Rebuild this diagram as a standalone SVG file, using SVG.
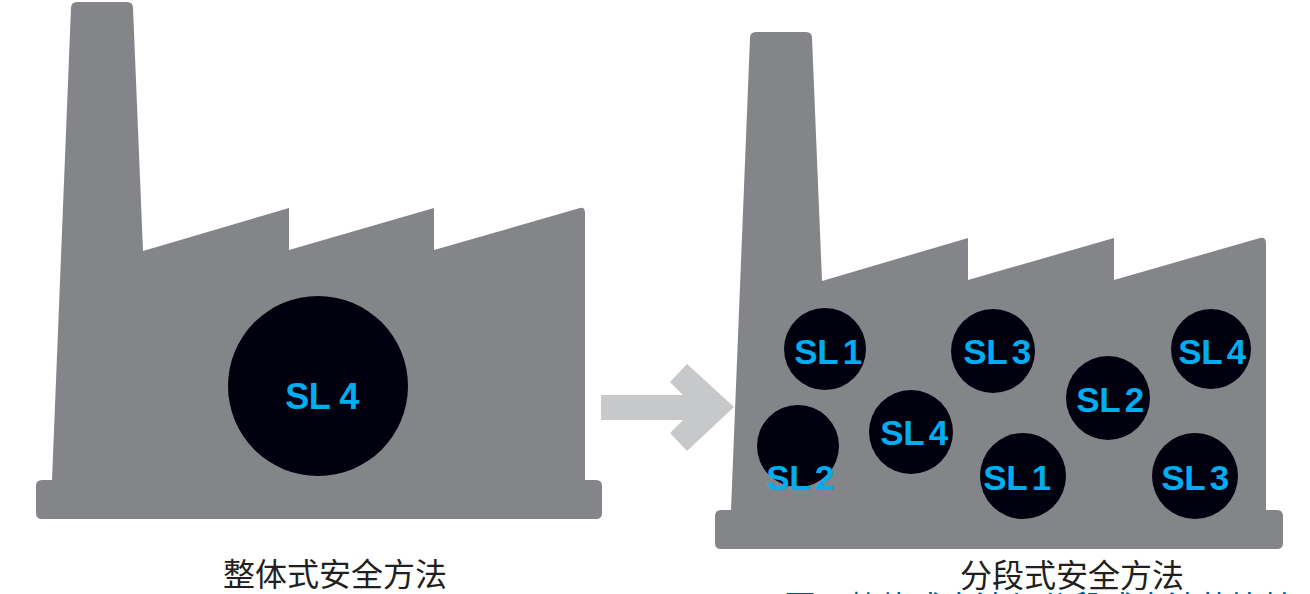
<svg xmlns="http://www.w3.org/2000/svg" width="1310" height="594" viewBox="0 0 1310 594">
<style>
.f{fill:#848589}
.c{fill:#00000f}
.s{font:700 36px "Liberation Sans",Arial,sans-serif;fill:#00aeef;text-anchor:middle;letter-spacing:-.5px}
.n{font-size:35px;word-spacing:-4px}
.l{font:32px "Noto Sans CJK SC","Liberation Sans",sans-serif;fill:#231f20;text-anchor:middle}
.b{font:32px "Noto Sans CJK SC","Liberation Sans",sans-serif;fill:#005b8c}
</style>
<g id="factory-left"><path class="f" d="M71 8Q71 2 77 2H127Q133 2 133 8L143 251L289 208V250L434 208V250L580 208Q585 207 585 213V480H596Q602 480 602 486V513Q602 519 596 519H42Q36 519 36 513V486Q36 480 42 480H52Z"/></g>
<g id="factory-right"><path class="f" d="M750 38Q750 32 756 32H806Q812 32 812 38L822 281L968 238V280L1114 238V280L1260 238Q1266 237 1266 243V510H1277Q1283 510 1283 516V543Q1283 549 1277 549H721Q715 549 715 543V516Q715 510 721 510H731Z"/></g>
<g id="sl4-large"><circle class="c" cx="318" cy="386" r="90"/><text class="s" x="322" y="409">SL 4</text></g>
<g id="r-sl1a"><circle class="c" cx="825" cy="349" r="41"/><text class="s n" x="828" y="364">SL 1</text></g>
<g id="r-sl3a"><circle class="c" cx="993" cy="351" r="42"/><text class="s n" x="997" y="364">SL 3</text></g>
<g id="r-sl4a"><circle class="c" cx="1211" cy="349" r="40"/><text class="s n" x="1212" y="364">SL 4</text></g>
<g id="r-sl2a"><circle class="c" cx="1108" cy="398" r="42"/><text class="s n" x="1110" y="412">SL 2</text></g>
<g id="r-sl4b"><circle class="c" cx="911" cy="432" r="42"/><text class="s n" x="914" y="445">SL 4</text></g>
<g id="r-sl2b"><circle class="c" cx="798" cy="446" r="41"/><text class="s n" x="800" y="490">SL 2</text></g>
<g id="r-sl1b"><circle class="c" cx="1023" cy="476" r="43"/><text class="s n" x="1017" y="490">SL 1</text></g>
<g id="r-sl3b"><circle class="c" cx="1195" cy="476" r="43"/><text class="s n" x="1195" y="490">SL 3</text></g>
<g id="connectors"><path d="M601 395H683L670 382L687 364L734 407L687 451L670 433L683 420H601Z" fill="#c7c8ca"/></g>
<g id="captions">
<text class="l" x="335" y="586">整体式安全方法</text>
<text class="l" x="1072" y="587">分段式安全方法</text>
<text class="b" x="784" y="619">图</text>
<text class="b" x="847" y="619">整体式方法与分段式方法的比较</text>
</g>
</svg>
